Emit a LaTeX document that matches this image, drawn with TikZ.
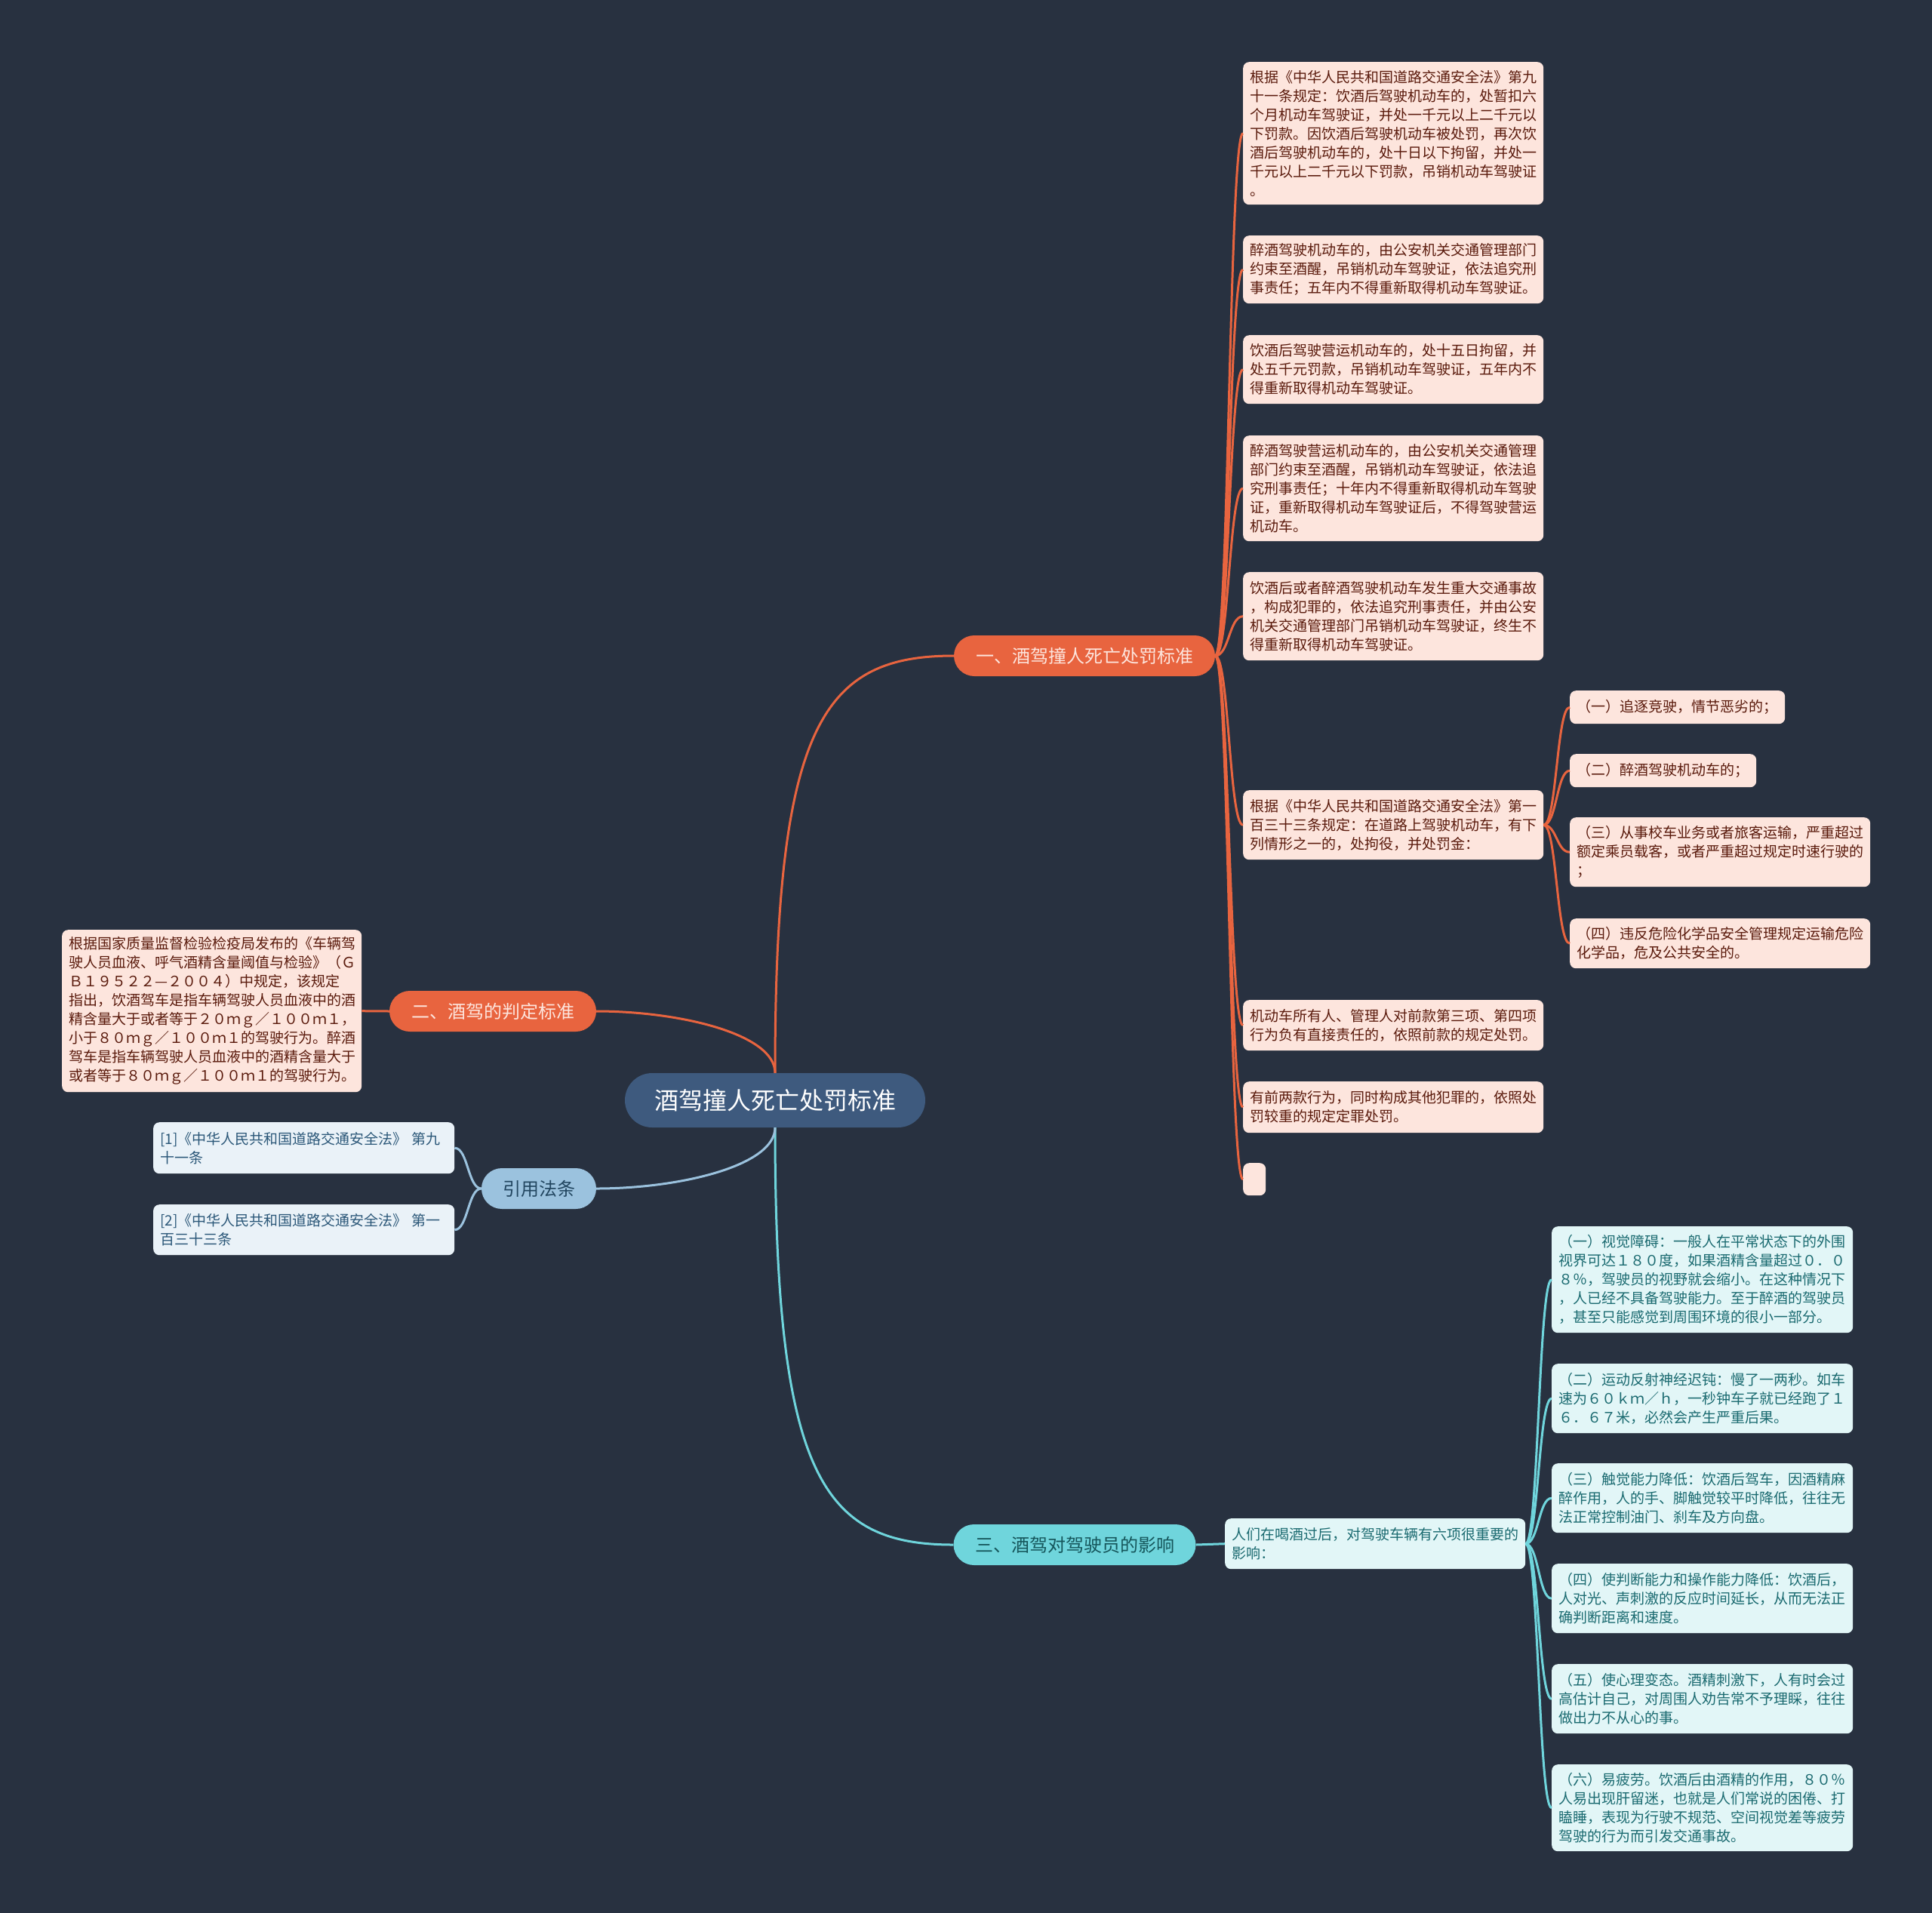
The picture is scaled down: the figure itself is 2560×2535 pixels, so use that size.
\documentclass[tikz,border=0pt]{standalone}
\usepackage{fontspec}
\setmainfont{Noto Sans CJK SC}
\usetikzlibrary{calc}
\definecolor{bg}{HTML}{283140}
\definecolor{ctr}{HTML}{3E5A7E}
\definecolor{org}{HTML}{E8643F}
\definecolor{orgfill}{HTML}{FDE5DD}
\definecolor{orgtext}{HTML}{5A1A0C}
\definecolor{cyn}{HTML}{6FD5DC}
\definecolor{cynfill}{HTML}{E2F6F7}
\definecolor{cyntext}{HTML}{1A6A70}
\definecolor{blu}{HTML}{9BC2DE}
\definecolor{blufill}{HTML}{EAF2F8}
\definecolor{blutext}{HTML}{2B5778}
\newcommand\mmconn[3]{\draw[#1] let \p1=(#2), \p2=(#3) in (\p1) .. controls ({(\x1+\x2)/2},\y1) and ({(\x1+\x2)/2},\y2) .. (\p2);}
\begin{document}
\begin{tikzpicture}[x=1pt,y=-1pt,
  pill/.style={rounded corners=27pt, minimum height=54pt, inner sep=0pt, font=\fontsize{24}{28}\selectfont},
  leaf/.style={anchor=north west, rounded corners=8pt, inner xsep=9pt, inner ysep=0pt, align=left, font=\fontsize{19}{25}\selectfont},
  oleaf/.style={leaf, fill=orgfill, text=orgtext},
  cleaf/.style={leaf, fill=cynfill, text=cyntext},
  bleaf/.style={leaf, fill=blufill, text=blutext},
  oline/.style={draw=org, line width=3pt},
  cline/.style={draw=cyn, line width=3pt},
  bline/.style={draw=blu, line width=3pt}]
\fill[bg] (0,0) rectangle (2560,2535);
\useasboundingbox (0,0) rectangle (2560,2535);

% main nodes
\node[fill=ctr, text=white, rounded corners=36pt, minimum width=398pt, minimum height=72pt, inner sep=0pt, font=\fontsize{32}{36}\selectfont] (c) at (1027,1458) {酒驾撞人死亡处罚标准};
\node[pill, fill=org, text=orgfill, minimum width=346pt] (b1) at (1437,869) {一、酒驾撞人死亡处罚标准};
\node[pill, fill=org, text=orgfill, minimum width=274pt] (b2) at (653,1340) {二、酒驾的判定标准};
\node[pill, fill=cyn, text=cyntext!80!black, minimum width=321pt] (b3) at (1424,2047) {三、酒驾对驾驶员的影响};
\node[pill, fill=blu, text=blutext!80!black, minimum width=152pt] (b4) at (714,1575) {引用法条};

% branch 1 leaves
\node[oleaf, text width=380pt, minimum height=189pt] (o1) at (1647,82) {根据《中华人民共和国道路交通安全法》第九\\十一条规定：饮酒后驾驶机动车的，处暂扣六\\个月机动车驾驶证，并处一千元以上二千元以\\下罚款。因饮酒后驾驶机动车被处罚，再次饮\\酒后驾驶机动车的，处十日以下拘留，并处一\\千元以上二千元以下罚款，吊销机动车驾驶证\\。};
\node[oleaf, text width=380pt, minimum height=90pt] (o2) at (1647,312) {醉酒驾驶机动车的，由公安机关交通管理部门\\约束至酒醒，吊销机动车驾驶证，依法追究刑\\事责任；五年内不得重新取得机动车驾驶证。};
\node[oleaf, text width=380pt, minimum height=91pt] (o3) at (1647,444) {饮酒后驾驶营运机动车的，处十五日拘留，并\\处五千元罚款，吊销机动车驾驶证，五年内不\\得重新取得机动车驾驶证。};
\node[oleaf, text width=380pt, minimum height=140pt] (o4) at (1647,577) {醉酒驾驶营运机动车的，由公安机关交通管理\\部门约束至酒醒，吊销机动车驾驶证，依法追\\究刑事责任；十年内不得重新取得机动车驾驶\\证，重新取得机动车驾驶证后，不得驾驶营运\\机动车。};
\node[oleaf, text width=380pt, minimum height=117pt] (o5) at (1647,758) {饮酒后或者醉酒驾驶机动车发生重大交通事故\\，构成犯罪的，依法追究刑事责任，并由公安\\机关交通管理部门吊销机动车驾驶证，终生不\\得重新取得机动车驾驶证。};
\node[oleaf, text width=380pt, minimum height=92pt] (o6) at (1647,1047) {根据《中华人民共和国道路交通安全法》第一\\百三十三条规定：在道路上驾驶机动车，有下\\列情形之一的，处拘役，并处罚金：};
\node[oleaf, text width=380pt, minimum height=67pt] (o7) at (1647,1325) {机动车所有人、管理人对前款第三项、第四项\\行为负有直接责任的，依照前款的规定处罚。};
\node[oleaf, text width=380pt, minimum height=68pt] (o8) at (1647,1433) {有前两款行为，同时构成其他犯罪的，依照处\\罚较重的规定定罪处罚。};
\node[oleaf, text width=12pt, minimum height=43pt] (o9) at (1647,1541) {};

% sub leaves
\node[oleaf, text width=267pt, minimum height=44pt] (s1) at (2080,915) {（一）追逐竞驶，情节恶劣的；};
\node[oleaf, text width=229pt, minimum height=44pt] (s2) at (2080,999) {（二）醉酒驾驶机动车的；};
\node[oleaf, text width=380pt, minimum height=92pt] (s3) at (2080,1083) {（三）从事校车业务或者旅客运输，严重超过\\额定乘员载客，或者严重超过规定时速行驶的\\；};
\node[oleaf, text width=380pt, minimum height=66pt] (s4) at (2080,1217) {（四）违反危险化学品安全管理规定运输危险\\化学品，危及公共安全的。};

% branch 2 leaf
\node[oleaf, text width=379pt, minimum height=215pt] (L) at (82,1232) {根据国家质量监督检验检疫局发布的《车辆驾\\驶人员血液、呼气酒精含量阈值与检验》（Ｇ\\Ｂ１９５２２—２００４）中规定，该规定\\指出，饮酒驾车是指车辆驾驶人员血液中的酒\\精含量大于或者等于２０ｍｇ／１００ｍ１，\\小于８０ｍｇ／１００ｍ１的驾驶行为。醉酒\\驾车是指车辆驾驶人员血液中的酒精含量大于\\或者等于８０ｍｇ／１００ｍ１的驾驶行为。};

% branch 3 leaves
\node[cleaf, text width=380pt, minimum height=67pt] (m) at (1623,2012) {人们在喝酒过后，对驾驶车辆有六项很重要的\\影响：};
\node[cleaf, text width=381pt, minimum height=141pt] (k1) at (2056,1625) {（一）视觉障碍：一般人在平常状态下的外围\\视界可达１８０度，如果酒精含量超过０．０\\８％，驾驶员的视野就会缩小。在这种情况下\\，人已经不具备驾驶能力。至于醉酒的驾驶员\\，甚至只能感觉到周围环境的很小一部分。};
\node[cleaf, text width=381pt, minimum height=92pt] (k2) at (2056,1807) {（二）运动反射神经迟钝：慢了一两秒。如车\\速为６０ｋｍ／ｈ，一秒钟车子就已经跑了１\\６．６７米，必然会产生严重后果。};
\node[cleaf, text width=381pt, minimum height=92pt] (k3) at (2056,1939) {（三）触觉能力降低：饮酒后驾车，因酒精麻\\醉作用，人的手、脚触觉较平时降低，往往无\\法正常控制油门、刹车及方向盘。};
\node[cleaf, text width=381pt, minimum height=92pt] (k4) at (2056,2072) {（四）使判断能力和操作能力降低：饮酒后，\\人对光、声刺激的反应时间延长，从而无法正\\确判断距离和速度。};
\node[cleaf, text width=381pt, minimum height=92pt] (k5) at (2056,2205) {（五）使心理变态。酒精刺激下，人有时会过\\高估计自己，对周围人劝告常不予理睬，往往\\做出力不从心的事。};
\node[cleaf, text width=381pt, minimum height=115pt] (k6) at (2056,2338) {（六）易疲劳。饮酒后由酒精的作用，８０％\\人易出现肝留迷，也就是人们常说的困倦、打\\瞌睡，表现为行驶不规范、空间视觉差等疲劳\\驾驶的行为而引发交通事故。};

% branch 4 leaves
\node[bleaf, text width=381pt, minimum height=68pt] (r1) at (203,1487) {[1]《中华人民共和国道路交通安全法》 第九\\十一条};
\node[bleaf, text width=381pt, minimum height=67pt] (r2) at (203,1596) {[2]《中华人民共和国道路交通安全法》 第一\\百三十三条};

% main connectors
\draw[oline] (c.north) .. controls (1027,960) and (1090,869) .. (b1.west);
\draw[oline] (c.north) .. controls (1027,1370) and (900,1340) .. (b2.east);
\draw[cline] (c.south) .. controls (1027,1956) and (1090,2047) .. (b3.west);
\draw[bline] (c.south) .. controls (1027,1545) and (900,1575) .. (b4.east);

% branch connectors
\foreach \nd in {o1,o2,o3,o4,o5,o6,o7,o8,o9} {\mmconn{oline}{b1.east}{\nd.west}}
\foreach \nd in {s1,s2,s3,s4} {\mmconn{oline}{o6.east}{\nd.west}}
\mmconn{oline}{b2.west}{L.east}
\mmconn{cline}{b3.east}{m.west}
\foreach \nd in {k1,k2,k3,k4,k5,k6} {\mmconn{cline}{m.east}{\nd.west}}
\foreach \nd in {r1,r2} {\mmconn{bline}{b4.west}{\nd.east}}
\end{tikzpicture}
\end{document}
